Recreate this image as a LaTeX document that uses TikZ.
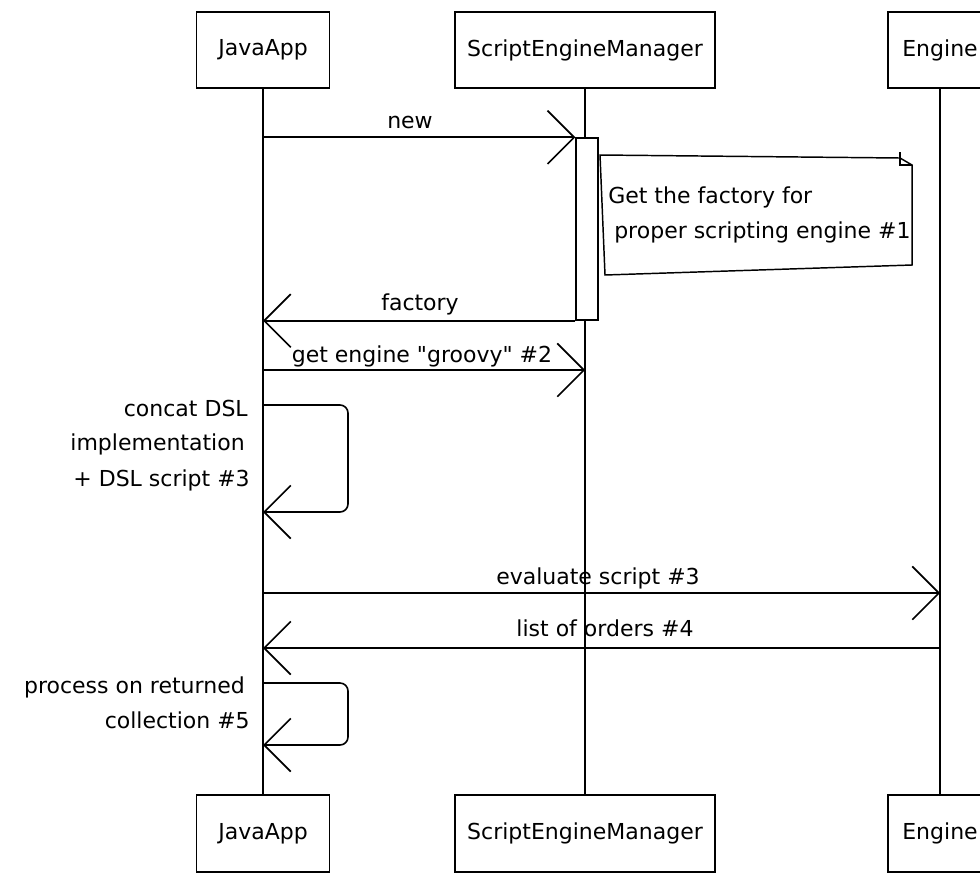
\documentclass[tikz,border=0pt]{standalone}
\usepackage{fontspec}
\setmainfont{DejaVu Sans}[Ligatures=TeXOff]
\usetikzlibrary{arrows.meta}
\begin{document}
\begin{tikzpicture}[x=0.75pt,y=-0.75pt,
  txt/.style={font=\fontsize{16.5}{19}\selectfont, inner sep=0pt},
  actor/.style={draw, line width=1.1pt, fill=white, font=\fontsize{16.5}{19}\selectfont, inner sep=0pt},
  life/.style={line width=0.8pt},
  msg/.style={line width=1.2pt, -{Straight Barb[length=20pt,width=40pt,line width=1.2pt]}},
  selfmsg/.style={msg, rounded corners=6pt},
  actbar/.style={draw, line width=1.1pt, fill=white, minimum width=16.5pt, minimum height=136.5pt, inner sep=0pt},
  notebox/.style={line width=1.1pt}
]
\clip (0,0) rectangle (980,875);
\fill[white] (0,0) rectangle (980,875);

% participants
\node[actor, minimum width=99.75pt, minimum height=57pt] (ja1) at (263,50) {JavaApp};
\node[actor, minimum width=195pt, minimum height=57pt] (sem1) at (585,50) {ScriptEngineManager};
\node[actor, minimum width=78pt, minimum height=57pt] (en1) at (940,50) {Engine};
\node[actor, minimum width=99.75pt, minimum height=57.75pt] (ja2) at (263,833.5) {JavaApp};
\node[actor, minimum width=195pt, minimum height=57.75pt] (sem2) at (585,833.5) {ScriptEngineManager};
\node[actor, minimum width=78pt, minimum height=57.75pt] (en2) at (940,833.5) {Engine};

% lifelines
\draw[life] (ja1.south) -- (ja2.north);
\draw[life] (sem1.south) -- (sem2.north);
\draw[life] (en1.south) -- (en2.north);

% activation bar
\node[actbar] (act) at (587,229) {};

% new
\draw[msg] (ja1 |- act.north) -- (act.north west);
\node[txt, anchor=base] (lnew) at (410,128) {new};

% note
\draw[notebox, fill=white] (600,155) -- (900,158) -- (912,165) -- (912,265) -- (605,275) -- cycle;
\draw[line width=0.9pt] (900,152) -- (900,165) -- (912,165);
\node[txt, anchor=base west] (n1) at (608,203) {Get the factory for};
\node[txt, anchor=base west] (n2) at (614,238) {proper scripting engine \#1};

% factory
\draw[msg] (act.south west) -- (ja1 |- act.south);
\node[txt, anchor=base] (lfac) at (420,310) {factory};

% get engine
\coordinate (ge1) at (263,370);
\draw[msg] (ge1) -- (sem1 |- ge1);
\node[txt, anchor=base] (lge) at (422,362) {get engine "groovy" \#2};

% self message 1
\coordinate (s1a) at (263,405);
\coordinate (s1b) at (263,512);
\draw[selfmsg] (s1a) -- (348,405) -- (348,512) -- (s1b);
\node[txt, anchor=base east] (c1) at (248,416) {concat DSL};
\node[txt, anchor=base east] (c2) at (245,450) {implementation};
\node[txt, anchor=base east] (c3) at (250,486) {+ DSL script \#3};

% evaluate
\coordinate (ev) at (263,593);
\draw[msg] (ev) -- (en1 |- ev);
\node[txt, anchor=base] (lev) at (598,584) {evaluate script \#3};

% list of orders
\coordinate (lo) at (940,648);
\draw[msg] (lo) -- (ja1 |- lo);
\node[txt, anchor=base] (llo) at (605,636) {list of orders \#4};

% self message 2
\coordinate (s2a) at (263,683);
\coordinate (s2b) at (263,745);
\draw[selfmsg] (s2a) -- (348,683) -- (348,745) -- (s2b);
\node[txt, anchor=base east] (p1) at (245,693) {process on returned};
\node[txt, anchor=base east] (p2) at (250,728) {collection \#5};
\end{tikzpicture}
\end{document}
